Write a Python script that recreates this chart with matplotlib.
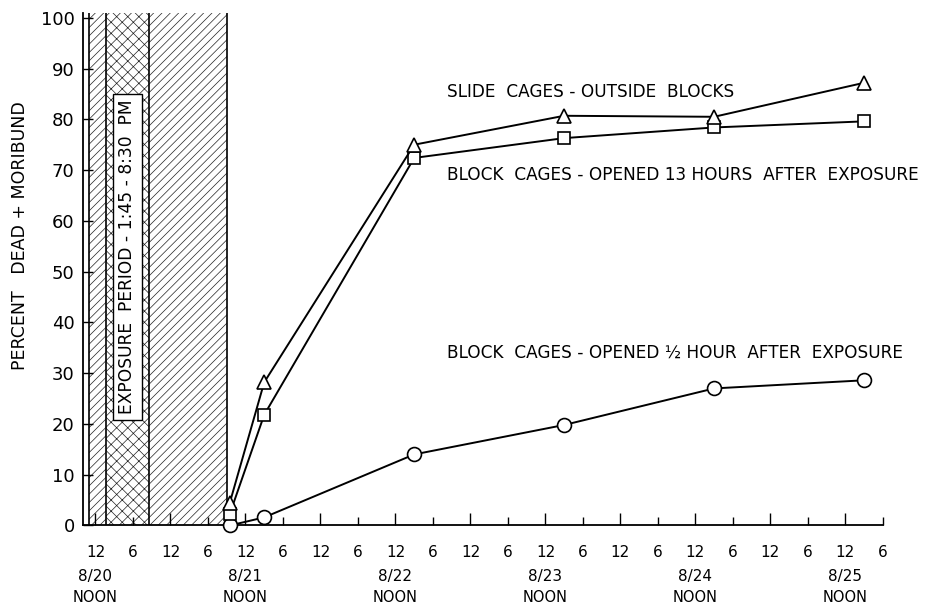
import matplotlib
matplotlib.use("Agg")
import matplotlib.pyplot as plt
from matplotlib.transforms import blended_transform_factory

# ---- data (hours after noon 8/20) ----
hours = [21.5, 27, 51, 75, 99, 123]
slide_outside = [4.5, 28.2, 75.0, 80.7, 80.5, 87.2]
block_13h = [2.3, 21.8, 72.4, 76.3, 78.4, 79.6]
block_half = [0.0, 1.6, 14.0, 19.8, 27.0, 28.6]

series_labels = ["SLIDE  CAGES - OUTSIDE  BLOCKS",
                 "BLOCK  CAGES - OPENED 13 HOURS  AFTER  EXPOSURE",
                 "BLOCK  CAGES - OPENED \u00bd HOUR  AFTER  EXPOSURE"]
label_pos = [(56.2, 85.4), (56.2, 69.1), (56.2, 34.1)]

date_labels = ["8/20", "8/21", "8/22", "8/23", "8/24", "8/25"]
date_hours = [0, 24, 48, 72, 96, 120]

# hatched periods (hours)
pre_start, exp_start, exp_end, post_end = -1, 1.75, 8.5, 21.0
exposure_text = "EXPOSURE  PERIOD - 1:45 - 8:30  PM"

plt.rcParams['font.family'] = ['DejaVu Sans']
plt.rcParams['hatch.linewidth'] = 0.5

fig = plt.figure(figsize=(9.29, 6.08), dpi=100)
ax = fig.add_axes([0.0893, 0.1357, 0.8611, 0.8434])

ax.set_xlim(-2, 126)
ax.set_ylim(0, 101)

# hatched regions
ax.axvspan(pre_start, exp_start, facecolor='white', edgecolor='#222222', hatch='////', linewidth=0, zorder=1)
ax.axvspan(exp_start, exp_end, facecolor='white', edgecolor='#222222', hatch='xxx', linewidth=0, zorder=1)
ax.axvspan(exp_end, post_end, facecolor='white', edgecolor='#222222', hatch='////', linewidth=0, zorder=1)
for b in [pre_start, exp_start, exp_end, post_end]:
    ax.axvline(b, color='black', lw=1.2, zorder=2)

ax.text((exp_start + exp_end) / 2, 52.9, exposure_text, rotation=90,
        ha='center', va='center', fontsize=12.3, zorder=5,
        bbox=dict(boxstyle='square,pad=0.35', facecolor='white', edgecolor='black', lw=1.0))

common = dict(color='black', lw=1.4, markerfacecolor='white', markeredgecolor='black',
              markeredgewidth=1.2, clip_on=False, zorder=4)
ax.plot(hours, block_half, marker='o', markersize=10, **common)
ax.plot(hours, block_13h, marker='s', markersize=9, **common)
ax.plot(hours, slide_outside, marker='^', markersize=10, **common)

for txt, (x, y) in zip(series_labels, label_pos):
    ax.text(x, y, txt, ha='left', va='center', fontsize=12.2)

# axes styling
for s in ['top', 'right']:
    ax.spines[s].set_visible(False)
for s in ['left', 'bottom']:
    ax.spines[s].set_linewidth(1.3)

ax.set_yticks(range(0, 101, 10))
ax.tick_params(axis='y', direction='in', length=7, width=1.0, labelsize=13, pad=6)

ax.set_xticks(range(0, 121, 12), labels=["12"] * 11)
ax.set_xticks(range(6, 127, 12), labels=["6"] * 11, minor=True)
ax.tick_params(axis='x', which='major', direction='in', length=9, width=1.0, labelsize=11, pad=14)
ax.tick_params(axis='x', which='minor', direction='in', length=5.5, width=1.0, labelsize=11, pad=14)

trans = blended_transform_factory(ax.transData, ax.transAxes)
for h, d in zip(date_hours, date_labels):
    ax.text(h, -0.100, d, transform=trans, ha='center', va='center', fontsize=11)
    ax.text(h, -0.141, "NOON", transform=trans, ha='center', va='center', fontsize=10.5)

fig.text(0.0215, 0.613, "PERCENT   DEAD + MORIBUND", rotation=90, ha='center', va='center', fontsize=12.5)

fig.savefig("out.png", dpi=100)
